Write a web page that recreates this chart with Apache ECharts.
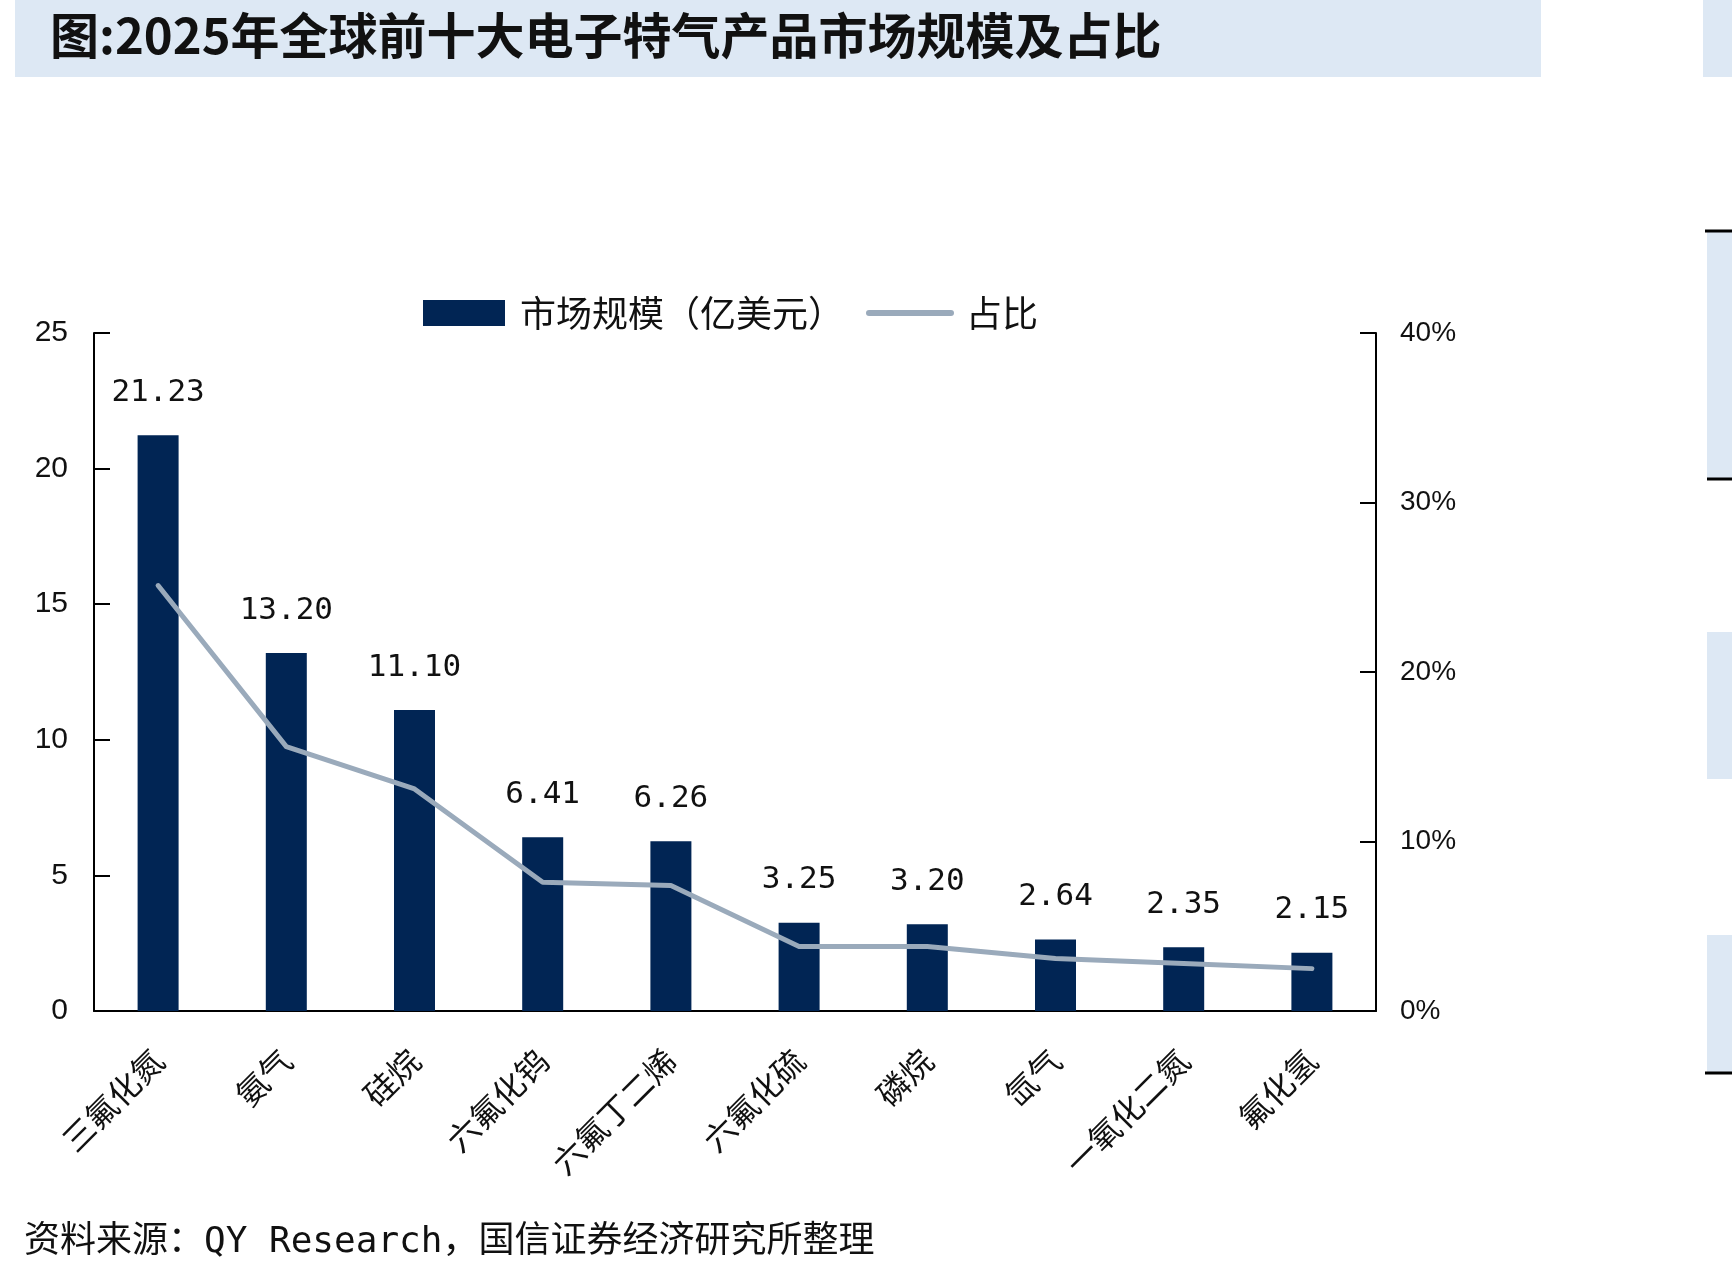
<!DOCTYPE html>
<html>
<head>
<meta charset="utf-8">
<script src="https://cdn.jsdelivr.net/npm/echarts@6/dist/echarts.min.js"></script>
<style>
  html, body { margin: 0; padding: 0; background: #fff; }
  #main { width: 1732px; height: 1273px; }
</style>
</head>
<body>
<div id="main"></div>
<script>
// 产品名称
var categories = ['三氟化氮', '氨气', '硅烷', '六氟化钨', '六氟丁二烯', '六氟化硫', '磷烷', '氙气', '一氧化二氮', '氟化氢'];
// 市场规模（亿美元）
var marketSize = [21.23, 13.20, 11.10, 6.41, 6.26, 3.25, 3.20, 2.64, 2.35, 2.15];
// 占比（%）
var share = [25.1, 15.6, 13.1, 7.6, 7.4, 3.8, 3.8, 3.1, 2.8, 2.5];

var cjk = '"Noto Sans CJK SC", sans-serif';
var navy = '#012554';
var grey = '#9aaabb';

var myChart = echarts.init(document.getElementById('main'));
myChart.setOption({
  backgroundColor: '#fff',
  animation: false,
  graphic: [
    { type: 'rect', shape: { x: 15, y: 0, width: 1526, height: 77 }, style: { fill: '#dde8f4' } },
    { type: 'text', left: 50, top: 11, style: { text: '图:2025年全球前十大电子特气产品市场规模及占比', font: 'bold 49px ' + cjk, fill: '#111' } },
    { type: 'text', left: 24, top: 1225, style: { text: '资料来源：QY Research，国信证券经济研究所整理', font: '36px "DejaVu Sans Mono", ' + cjk, fill: '#111' } },
    // 右侧装饰
    { type: 'rect', shape: { x: 1703, y: 0, width: 29, height: 77 }, style: { fill: '#dde8f4' } },
    { type: 'rect', shape: { x: 1707, y: 232, width: 25, height: 246 }, style: { fill: '#dde8f4' } },
    { type: 'rect', shape: { x: 1707, y: 632, width: 25, height: 147 }, style: { fill: '#dde8f4' } },
    { type: 'rect', shape: { x: 1707, y: 935, width: 25, height: 137 }, style: { fill: '#dde8f4' } },
    { type: 'line', shape: { x1: 1705, y1: 231, x2: 1732, y2: 231 }, style: { stroke: '#000', lineWidth: 3 } },
    { type: 'line', shape: { x1: 1707, y1: 479, x2: 1732, y2: 479 }, style: { stroke: '#000', lineWidth: 3 } },
    { type: 'line', shape: { x1: 1705, y1: 1073, x2: 1732, y2: 1073 }, style: { stroke: '#000', lineWidth: 3 } }
  ],
  legend: {
    left: 418,
    top: 290,
    itemWidth: 82,
    itemHeight: 26,
    itemGap: 22,
    textStyle: { fontSize: 36, fontFamily: cjk, color: '#111', padding: [0, 0, 0, 10] },
    data: [
      { name: '市场规模（亿美元）', icon: 'rect' },
      { name: '占比', itemStyle: { opacity: 0 }, lineStyle: { width: 6, cap: 'round', color: grey } }
    ]
  },
  grid: { left: 94, right: 356, top: 333, bottom: 262, containLabel: false },
  xAxis: [
    {
      type: 'category',
      data: categories,
      axisLine: { lineStyle: { color: '#000', width: 2 } },
      axisTick: { inside: true, length: 12, lineStyle: { color: '#000', width: 2 } },
      axisLabel: { rotate: 45, margin: 44, fontSize: 32, fontFamily: cjk, color: '#111', interval: 0 }
    },
    {
      type: 'category',
      data: categories,
      position: 'bottom',
      axisLine: { show: false },
      axisTick: { inside: true, alignWithLabel: true, length: 8, lineStyle: { color: '#000', width: 2 } },
      axisLabel: { show: false }
    }
  ],
  yAxis: [
    {
      type: 'value',
      min: 0, max: 25, interval: 5,
      axisLine: { show: true, lineStyle: { color: '#000', width: 2 } },
      axisTick: { show: true, inside: true, length: 16, lineStyle: { color: '#000', width: 2 } },
      axisLabel: { margin: 26, fontSize: 30, fontFamily: '"Liberation Sans", Arial', color: '#111' },
      splitLine: { show: false }
    },
    {
      type: 'value',
      min: 0, max: 40, interval: 10,
      position: 'right',
      axisLine: { show: true, lineStyle: { color: '#000', width: 2 } },
      axisTick: { show: true, inside: true, length: 16, lineStyle: { color: '#000', width: 2 } },
      axisLabel: { margin: 24, fontSize: 28, fontFamily: '"Liberation Sans", Arial', color: '#111', formatter: '{value}%' },
      splitLine: { show: false }
    }
  ],
  series: [
    {
      name: '市场规模（亿美元）',
      type: 'bar',
      xAxisIndex: 0,
      yAxisIndex: 0,
      barWidth: 41,
      data: marketSize,
      itemStyle: { color: navy },
      label: {
        show: true,
        position: 'top',
        distance: 27,
        fontSize: 31,
        fontFamily: '"DejaVu Sans Mono", monospace',
        color: '#111',
        formatter: function (p) { return p.value.toFixed(2); }
      },
      z: 2
    },
    {
      name: '占比',
      type: 'line',
      xAxisIndex: 0,
      yAxisIndex: 1,
      data: share,
      symbol: 'none',
      lineStyle: { color: grey, width: 5, cap: 'round', join: 'round' },
      itemStyle: { color: grey },
      z: 3
    }
  ]
});
</script>
</body>
</html>
